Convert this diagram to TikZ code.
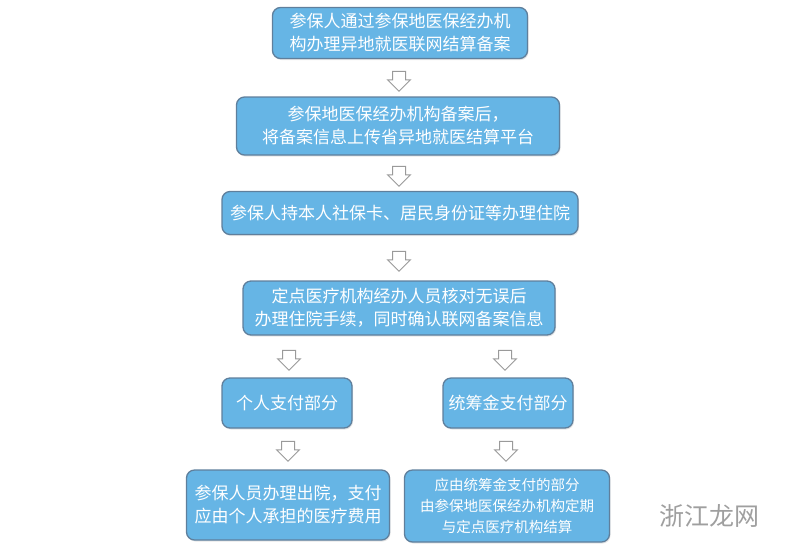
\documentclass[tikz,border=0pt]{standalone}
\usepackage{fontspec}
\newfontfamily\cjk{Noto Sans CJK SC}
\usetikzlibrary{shapes.arrows,shadows}
\definecolor{boxblue}{HTML}{66B5E5}
\definecolor{boxline}{HTML}{5F7F9C}
\definecolor{arrline}{HTML}{9A9A9A}
\begin{document}
\begin{tikzpicture}[x=1pt,y=-1pt,
	stepbox/.style={draw=boxline,line width=1.3pt,fill=boxblue,rounded corners=8pt,
		text=white,align=center,inner sep=2pt,
		font=\cjk\fontsize{17}{23}\selectfont,
		drop shadow={opacity=0.2,shadow xshift=1pt,shadow yshift=-1.5pt}},
	downarrow/.style={single arrow,draw=arrline,line width=1pt,fill=white,
		shape border rotate=270,minimum height=20pt,minimum width=22pt,
		single arrow head extend=5pt,inner sep=6pt}]
	\useasboundingbox (0,0) rectangle (800,550);
	% main steps
	\node[stepbox,minimum width=255pt,minimum height=51pt] (filing) at (400,33)
		{参保人通过参保地医保经办机\\构办理异地就医联网结算备案};
	\node[stepbox,minimum width=323pt,minimum height=58pt] (upload) at (398,126)
		{参保地医保经办机构备案后，\\将备案信息上传省异地就医结算平台};
	\node[stepbox,minimum width=356pt,minimum height=43pt] (admit) at (400,213)
		{参保人持本人社保卡、居民身份证等办理住院};
	\node[stepbox,minimum width=312pt,minimum height=54pt] (check) at (399,308)
		{定点医疗机构经办人员核对无误后\\办理住院手续，同时确认联网备案信息};
	% two branches
	\node[stepbox,minimum width=130pt,minimum height=50pt] (self) at (287,403)
		{个人支付部分};
	\node[stepbox,minimum width=130pt,minimum height=50pt] (fund) at (508,403)
		{统筹金支付部分};
	\node[stepbox,minimum width=203pt,minimum height=70pt] (selfpay) at (288,505)
		{参保人员办理出院，支付\\应由个人承担的医疗费用};
	\node[stepbox,minimum width=205pt,minimum height=72pt,
		font=\cjk\fontsize{14.5}{21}\selectfont] (fundpay) at (507,506)
		{应由统筹金支付的部分\\由参保地医保经办机构定期\\与定点医疗机构结算};
	% arrows between steps
	\node[downarrow] (a1) at (399,78) {};
	\node[downarrow] (a2) at (399,173) {};
	\node[downarrow] (a3) at (399,258) {};
	\node[downarrow] (a4) at (289,357) {};
	\node[downarrow] (a5) at (505,357) {};
	\node[downarrow] (a6) at (288,448) {};
	\node[downarrow] (a7) at (506,448) {};
	% watermark
	\node[text=gray!75,font=\cjk\fontsize{25}{25}\selectfont] (mark) at (709,516) {浙江龙网};
\end{tikzpicture}
\end{document}
